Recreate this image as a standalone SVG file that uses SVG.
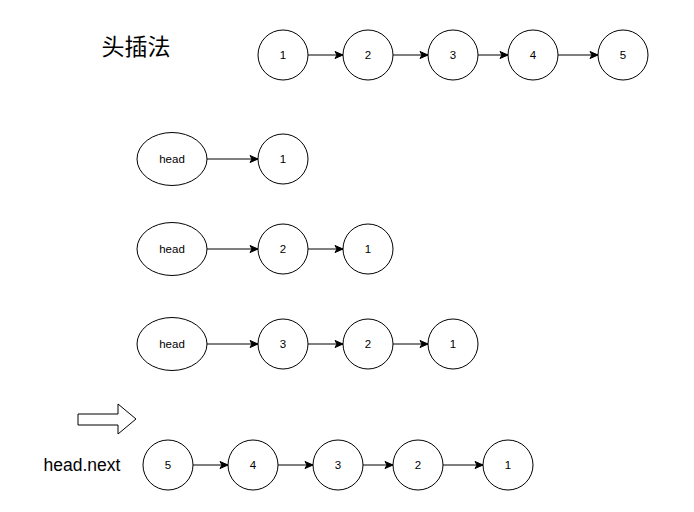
<svg xmlns="http://www.w3.org/2000/svg" width="694" height="512" viewBox="0 0 694 512">
<defs>
<marker id="arr" markerWidth="10" markerHeight="10" refX="9" refY="5" orient="auto" markerUnits="userSpaceOnUse">
<path d="M1,1.5 L9,5 L1,8.5 L3,5 Z" fill="#000" stroke="#000" stroke-width="1"/>
</marker>
</defs>
<style>
.n{fill:#fff;stroke:#000;stroke-width:1}
.t{font-family:"Liberation Sans",Arial,sans-serif;font-size:11.5px;fill:#000;text-anchor:middle;dominant-baseline:central}
.e{stroke:#000;stroke-width:1;fill:none;marker-end:url(#arr)}
</style>
<rect width="694" height="512" fill="#fff"/>
<text x="136" y="45" font-family="'Noto Sans CJK SC',sans-serif" font-size="23" text-anchor="middle" dominant-baseline="central">头插法</text>
<text x="82" y="465" font-family="'Liberation Sans',Arial,sans-serif" font-size="17.5" text-anchor="middle" dominant-baseline="central">head.next</text>
<path d="M78,414 L118,414 L118,404 L136,419 L118,434 L118,425 L78,425 Z" fill="#fff" stroke="#000"/>

<g id="connectors">
<line class="e" x1="308" y1="55" x2="343" y2="55"/>
<line class="e" x1="393" y1="55" x2="428" y2="55"/>
<line class="e" x1="478" y1="55" x2="508" y2="55"/>
<line class="e" x1="558" y1="55" x2="598" y2="55"/>
<line class="e" x1="207" y1="159" x2="258" y2="159"/>
<line class="e" x1="207" y1="249" x2="258" y2="249"/>
<line class="e" x1="308" y1="249" x2="343" y2="249"/>
<line class="e" x1="207" y1="344" x2="258" y2="344"/>
<line class="e" x1="308" y1="344" x2="343" y2="344"/>
<line class="e" x1="393" y1="344" x2="428" y2="344"/>
<line class="e" x1="193" y1="465" x2="228" y2="465"/>
<line class="e" x1="278" y1="465" x2="313" y2="465"/>
<line class="e" x1="363" y1="465" x2="393" y2="465"/>
<line class="e" x1="443" y1="465" x2="483" y2="465"/>
</g>

<g id="r1n1"><circle class="n" cx="283" cy="55" r="25"/><text class="t" x="283" y="55">1</text></g>
<g id="r1n2"><circle class="n" cx="368" cy="55" r="25"/><text class="t" x="368" y="55">2</text></g>
<g id="r1n3"><circle class="n" cx="453" cy="55" r="25"/><text class="t" x="453" y="55">3</text></g>
<g id="r1n4"><circle class="n" cx="533" cy="55" r="25"/><text class="t" x="533" y="55">4</text></g>
<g id="r1n5"><circle class="n" cx="623" cy="55" r="25"/><text class="t" x="623" y="55">5</text></g>

<g id="r2head"><ellipse class="n" cx="172" cy="159" rx="35" ry="26.5"/><text class="t" x="172" y="159">head</text></g>
<g id="r2n1"><circle class="n" cx="283" cy="159" r="25"/><text class="t" x="283" y="159">1</text></g>

<g id="r3head"><ellipse class="n" cx="172" cy="249" rx="35" ry="26.5"/><text class="t" x="172" y="249">head</text></g>
<g id="r3n2"><circle class="n" cx="283" cy="249" r="25"/><text class="t" x="283" y="249">2</text></g>
<g id="r3n1"><circle class="n" cx="368" cy="249" r="25"/><text class="t" x="368" y="249">1</text></g>

<g id="r4head"><ellipse class="n" cx="172" cy="344" rx="35" ry="26.5"/><text class="t" x="172" y="344">head</text></g>
<g id="r4n3"><circle class="n" cx="283" cy="344" r="25"/><text class="t" x="283" y="344">3</text></g>
<g id="r4n2"><circle class="n" cx="368" cy="344" r="25"/><text class="t" x="368" y="344">2</text></g>
<g id="r4n1"><circle class="n" cx="453" cy="344" r="25"/><text class="t" x="453" y="344">1</text></g>

<g id="r5n5"><circle class="n" cx="168" cy="465" r="25"/><text class="t" x="168" y="465">5</text></g>
<g id="r5n4"><circle class="n" cx="253" cy="465" r="25"/><text class="t" x="253" y="465">4</text></g>
<g id="r5n3"><circle class="n" cx="338" cy="465" r="25"/><text class="t" x="338" y="465">3</text></g>
<g id="r5n2"><circle class="n" cx="418" cy="465" r="25"/><text class="t" x="418" y="465">2</text></g>
<g id="r5n1"><circle class="n" cx="508" cy="465" r="25"/><text class="t" x="508" y="465">1</text></g>
</svg>
